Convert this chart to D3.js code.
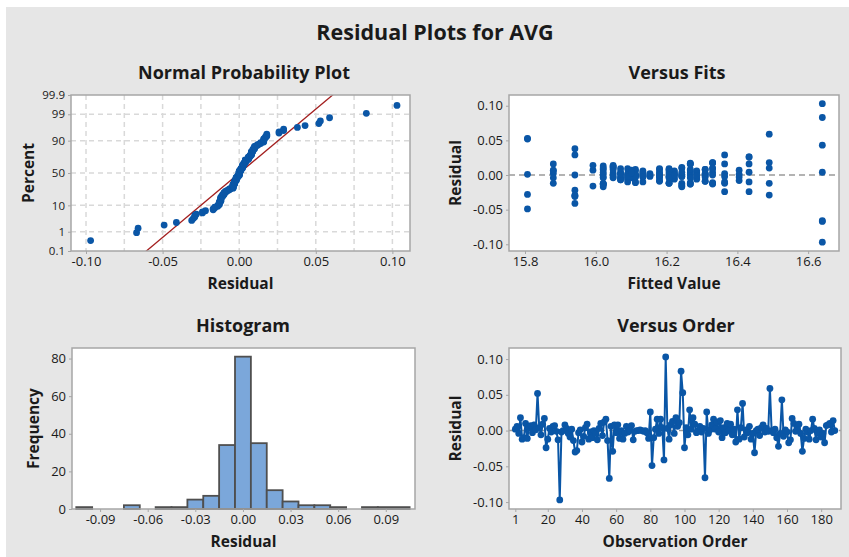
<!DOCTYPE html>
<html>
<head>
<meta charset="UTF-8">
<title>Residual Plots for AVG</title>
<style>
  body { margin: 0; background: #fff; }
  text { font-family: "Open Sans", "Noto Sans", sans-serif; fill: #1a1a1a; }
</style>
</head>
<body>
<div id="chart"></div>
<script src="https://d3js.org/d3.v7.min.js"></script>
<script>
// residuals in observation order (1..188)
var residual = [
  0.002, 0.006,-0.004, 0.018,-0.012,-0.010, 0.010,-0.011, 0.004, 0.007,
 -0.003, 0.008, 0.001, 0.052, 0.004,-0.006, 0.009, 0.017,-0.024,-0.012,
  0.003,-0.002, 0.006, 0.007,-0.001,-0.013,-0.097,-0.002, 0.000, 0.008,
  0.003,-0.004,-0.009, 0.002,-0.014,-0.030,-0.028,-0.003, 0.001,-0.016,
 -0.008, 0.004, 0.009,-0.012,-0.002,-0.010, 0.000,-0.004,-0.013, 0.003,
  0.010,-0.007, 0.012, 0.016,-0.014,-0.067, 0.006,-0.029, 0.008,-0.003,
  0.008,-0.011, 0.000,-0.012,-0.004, 0.006,-0.002, 0.000, 0.007,-0.013,
 -0.001, 0.000, 0.000, 0.001, 0.000,-0.001, 0.000,-0.003,-0.011, 0.026,
 -0.049,-0.010, 0.002, 0.016,-0.004, 0.016, 0.004,-0.041, 0.103, 0.003,
 -0.012, 0.008, 0.013,-0.004, 0.018, 0.006, 0.011, 0.083, 0.053,-0.024,
  0.004,-0.006, 0.029, 0.002, 0.018, 0.009,-0.003, 0.000, 0.006,-0.002,
  0.003,-0.066, 0.026,-0.004, 0.001, 0.008, 0.016, 0.002, 0.012,-0.002,
  0.014,-0.010, 0.004,-0.003, 0.010, 0.000, 0.009,-0.006, 0.002,-0.016,
  0.029,-0.012, 0.004, 0.038,-0.009, 0.001,-0.003, 0.006,-0.012,-0.004,
 -0.031, 0.000, 0.002,-0.007, 0.004, 0.008,-0.002, 0.003,-0.001, 0.059,
  0.000,-0.003, 0.002,-0.010,-0.022,-0.004, 0.043,-0.008, 0.001,-0.002,
 -0.017,-0.013, 0.017, 0.010,-0.001, 0.004, 0.009,-0.004,-0.029,-0.011,
  0.002,-0.002,-0.012, 0.000, 0.016, 0.003,-0.013,-0.003, 0.001,-0.009,
 -0.004,-0.017, 0.007, 0.008, 0.010,-0.002, 0.014, 0.000
];

// distinct fitted values and which one each observation has
var fitLevels = [15.807, 15.880, 15.941, 15.992, 16.021, 16.049, 16.070, 16.090,
  16.101, 16.112, 16.133, 16.153, 16.180, 16.207, 16.222, 16.243, 16.267, 16.285,
  16.309, 16.330, 16.364, 16.405, 16.433, 16.490, 16.640];
var fitIdx = [
  1, 1, 1,19, 1, 7, 5, 9, 6, 3,
  8,12, 0, 0,10,14,13,16,20, 4,
 17,11, 9,21,11,16,24,12,18, 4,
  5, 6,18, 7, 4, 2, 0,13,14, 3,
 12, 8, 7,13,15,10, 9,17,19,16,
 15, 6, 5, 1,15,24,10,23,18, 4,
  9,16, 5,19, 7,17,13,14, 8, 4,
 12,11,10, 9,15,18,16,21,13,22,
  0,20, 6,20, 5,22,19, 2,24,12,
 15,13, 4, 8,23,14,15,24, 0,22,
 24,17,20,18,19, 6,10, 7,16, 9,
 13,24,22,12, 4,18,16, 8, 5,15,
  3, 9,14, 6,23,19,12, 7,10,15,
  2,23, 4, 2,18,15, 9,13,20,14,
  2, 2,20, 6,22,16, 8,12,17,23,
 13, 5,18,22, 2, 4,24,21,21, 7,
 15,16,19, 4, 9,15,19,13, 2,19,
 11,10,13,14,16, 8, 4,18, 6,12,
 16, 4, 1, 5,19,20, 5,12
];

// tick labels
var probTicks = [0.1, 1, 10, 50, 90, 99, 99.9];
var probGrid = [1, 10, 50, 90, 99];
var npxTicks = [-0.10, -0.05, 0.00, 0.05, 0.10];
var npxGrid = [-0.10, -0.075, -0.05, -0.025, 0, 0.025, 0.05, 0.075, 0.10];
var residTicks = [-0.10, -0.05, 0.00, 0.05, 0.10];
var fitTicks = [15.8, 16.0, 16.2, 16.4, 16.6];
var histXTicks = [-0.09, -0.06, -0.03, 0.00, 0.03, 0.06, 0.09];
var histYTicks = [0, 20, 40, 60, 80];
var orderTicks = [1, 20, 40, 60, 80, 100, 120, 140, 160, 180];

var W = 849, H = 557;
var blue = "#0a56a6", red = "#a31f1f", frameCol = "#a6a6a6";

var svg = d3.select("#chart").append("svg")
  .attr("width", W).attr("height", H);

svg.append("rect").attr("x", 6).attr("y", 7)
  .attr("width", W - 6).attr("height", H - 7).attr("fill", "#e6e6e6");

svg.append("text").attr("x", 435).attr("y", 40)
  .attr("text-anchor", "middle").style("font-size", "21.5px").style("font-weight", "bold")
  .text("Residual Plots for AVG");

// inverse standard normal cdf (Acklam)
function qnorm(p) {
  var a = [-39.69683028665376, 220.9460984245205, -275.9285104469687, 138.3577518672690, -30.66479806614716, 2.506628277459239];
  var b = [-54.47609879822406, 161.5858368580409, -155.6989798598866, 66.80131188771972, -13.28068155288572];
  var c = [-0.007784894002430293, -0.3223964580411365, -2.400758277161838, -2.549732539343734, 4.374664141464968, 2.938163982698783];
  var d = [0.007784695709041462, 0.3224671290700398, 2.445134137142996, 3.754408661907416];
  var q, r;
  if (p < 0.02425) {
    q = Math.sqrt(-2 * Math.log(p));
    return (((((c[0]*q+c[1])*q+c[2])*q+c[3])*q+c[4])*q+c[5]) / ((((d[0]*q+d[1])*q+d[2])*q+d[3])*q+1);
  } else if (p > 1 - 0.02425) {
    q = Math.sqrt(-2 * Math.log(1 - p));
    return -(((((c[0]*q+c[1])*q+c[2])*q+c[3])*q+c[4])*q+c[5]) / ((((d[0]*q+d[1])*q+d[2])*q+d[3])*q+1);
  }
  q = p - 0.5; r = q * q;
  return (((((a[0]*r+a[1])*r+a[2])*r+a[3])*r+a[4])*r+a[5])*q / (((((b[0]*r+b[1])*r+b[2])*r+b[3])*r+b[4])*r+1);
}

function panel(box, title, titleX, xlab, ylab, ylabX) {
  var g = svg.append("g");
  svg.append("text").attr("x", titleX).attr("y", box.y0 - 16)
    .attr("text-anchor", "middle").style("font-size", "18px").style("font-weight", "bold")
    .text(title);
  svg.append("text").attr("x", (box.x0 + box.x1) / 2).attr("y", box.y1 + 38)
    .attr("text-anchor", "middle").style("font-size", "15.5px").style("font-weight", "bold")
    .text(xlab);
  svg.append("text")
    .attr("transform", "translate(" + ylabX + "," + ((box.y0 + box.y1) / 2) + ") rotate(-90)")
    .attr("text-anchor", "middle").attr("dy", "0.35em")
    .style("font-size", "15.5px").style("font-weight", "bold")
    .text(ylab);
  g.append("rect").attr("x", box.x0).attr("y", box.y0)
    .attr("width", box.x1 - box.x0).attr("height", box.y1 - box.y0)
    .attr("fill", "#fff");
  return g;
}

function frame(box) {
  svg.append("rect").attr("x", box.x0).attr("y", box.y0)
    .attr("width", box.x1 - box.x0).attr("height", box.y1 - box.y0)
    .attr("fill", "none").attr("stroke", frameCol).attr("stroke-width", 1.5);
}

function axes(box, xs, ys, xt, yt, xfmt, yfmt, yFont) {
  var ax = svg.append("g").attr("transform", "translate(0," + box.y1 + ")")
    .call(d3.axisBottom(xs).tickValues(xt).tickFormat(xfmt).tickSize(3).tickPadding(3));
  var ay = svg.append("g").attr("transform", "translate(" + box.x0 + ",0)")
    .call(d3.axisLeft(ys).tickValues(yt).tickFormat(yfmt).tickSize(3).tickPadding(3));
  [ax, ay].forEach(function (a) {
    a.select(".domain").remove();
    a.selectAll("line").attr("stroke", frameCol);
    a.selectAll("text").style("font-family", "'Open Sans', sans-serif")
      .style("font-size", "13px").attr("fill", "#222");
  });
  if (yFont) ay.selectAll("text").style("font-size", yFont);
}

var fmt2 = function (d) { return d3.format(".2f")(d).replace("−", "-"); };

// ---------- Normal probability plot ----------
var b1 = {x0: 71, x1: 410, y0: 95, y1: 251};
var g1 = panel(b1, "Normal Probability Plot", 244, "Residual", "Percent", 29);
var x1 = d3.scaleLinear().domain([-0.1098, 0.1115]).range([b1.x0, b1.x1]);
var y1 = d3.scaleLinear().domain([qnorm(0.001), qnorm(0.999)]).range([b1.y1, b1.y0]);

g1.selectAll(".vg").data(npxGrid).join("line")
  .attr("x1", function (d) { return x1(d); }).attr("x2", function (d) { return x1(d); })
  .attr("y1", b1.y0).attr("y2", b1.y1)
  .attr("stroke", "#d9d9d9").attr("stroke-width", 1.5).attr("stroke-dasharray", "5,4");
g1.selectAll(".hg").data(probGrid).join("line")
  .attr("x1", b1.x0).attr("x2", b1.x1)
  .attr("y1", function (d) { return y1(qnorm(d / 100)); })
  .attr("y2", function (d) { return y1(qnorm(d / 100)); })
  .attr("stroke", "#d9d9d9").attr("stroke-width", 1.5).attr("stroke-dasharray", "5,4");

var n = residual.length;
var sorted = residual.slice().sort(d3.ascending);
var mean = d3.mean(residual), sd = d3.deviation(residual);

svg.append("clipPath").attr("id", "clip1").append("rect")
  .attr("x", b1.x0).attr("y", b1.y0).attr("width", b1.x1 - b1.x0).attr("height", b1.y1 - b1.y0);
var zLo = qnorm(0.0005), zHi = qnorm(0.9995);
g1.append("line").attr("clip-path", "url(#clip1)")
  .attr("x1", x1(mean + sd * zLo)).attr("y1", y1(zLo))
  .attr("x2", x1(mean + sd * zHi)).attr("y2", y1(zHi))
  .attr("stroke", red).attr("stroke-width", 1.3);

g1.selectAll("circle").data(sorted).join("circle")
  .attr("cx", function (d) { return x1(d); })
  .attr("cy", function (d, i) { return y1(qnorm((i + 1 - 0.3) / (n + 0.4))); })
  .attr("r", 3.4).attr("fill", blue);
frame(b1);
var probZ = probTicks.map(function (p) { return qnorm(p / 100); });
axes(b1, x1, y1, npxTicks, probZ, fmt2,
  function (z, i) { return String(probTicks[i]); }, "11.5px");

// ---------- Versus fits ----------
var b2 = {x0: 509, x1: 839, y0: 95, y1: 251};
var g2 = panel(b2, "Versus Fits", 677, "Fitted Value", "Residual", 456);
var x2 = d3.scaleLinear().domain([15.7548, 16.6871]).range([b2.x0, b2.x1]);
var y2 = d3.scaleLinear().domain([-0.1097, 0.1155]).range([b2.y1, b2.y0]);
g2.append("line").attr("x1", b2.x0).attr("x2", b2.x1).attr("y1", y2(0)).attr("y2", y2(0))
  .attr("stroke", "#9a9a9a").attr("stroke-width", 1.5).attr("stroke-dasharray", "6,4");
g2.selectAll("circle").data(residual).join("circle")
  .attr("cx", function (d, i) { return x2(fitLevels[fitIdx[i]]); })
  .attr("cy", function (d) { return y2(d); })
  .attr("r", 3.4).attr("fill", blue);
frame(b2);
axes(b2, x2, y2, fitTicks, residTicks, d3.format(".1f"), fmt2);

// ---------- Histogram ----------
var b3 = {x0: 72, x1: 415, y0: 348, y1: 509};
var g3 = panel(b3, "Histogram", 243, "Residual", "Frequency", 34);
var x3 = d3.scaleLinear().domain([-0.1077, 0.1084]).range([b3.x0, b3.x1]);
var y3 = d3.scaleLinear().domain([0, 85.6]).range([b3.y1, b3.y0]);
var edges = d3.range(21).map(function (k) { return +(-0.105 + k * 0.01).toFixed(3); });
var bins = d3.bin().domain([-0.105, 0.105]).thresholds(edges.slice(1, -1))(residual);
g3.selectAll("rect.bar").data(bins.filter(function (b) { return b.length > 0; })).join("rect")
  .attr("class", "bar")
  .attr("x", function (b) { return x3(b.x0); })
  .attr("width", function (b) { return x3(b.x1) - x3(b.x0); })
  .attr("y", function (b) { return y3(b.length); })
  .attr("height", function (b) { return y3(0) - y3(b.length); })
  .attr("fill", "#7ba7da").attr("stroke", "#4f4f4f").attr("stroke-width", 1.8);
frame(b3);
axes(b3, x3, y3, histXTicks, histYTicks, fmt2, d3.format("d"));

// ---------- Versus order ----------
var b4 = {x0: 509, x1: 841, y0: 348, y1: 509};
var g4 = panel(b4, "Versus Order", 676, "Observation Order", "Residual", 456);
var x4 = d3.scaleLinear().domain([-2.7, 191.6]).range([b4.x0, b4.x1]);
var y4 = d3.scaleLinear().domain([-0.1097, 0.1155]).range([b4.y1, b4.y0]);
g4.append("line").attr("x1", b4.x0).attr("x2", b4.x1).attr("y1", y4(0)).attr("y2", y4(0))
  .attr("stroke", "#9a9a9a").attr("stroke-width", 1.5).attr("stroke-dasharray", "6,4");
var line4 = d3.line()
  .x(function (d, i) { return x4(i + 1); })
  .y(function (d) { return y4(d); });
g4.append("path").datum(residual).attr("d", line4)
  .attr("fill", "none").attr("stroke", blue).attr("stroke-width", 2);
g4.selectAll("circle").data(residual).join("circle")
  .attr("cx", function (d, i) { return x4(i + 1); })
  .attr("cy", function (d) { return y4(d); })
  .attr("r", 3.4).attr("fill", blue);
frame(b4);
axes(b4, x4, y4, orderTicks, residTicks, d3.format("d"), fmt2);
</script>
</body>
</html>
